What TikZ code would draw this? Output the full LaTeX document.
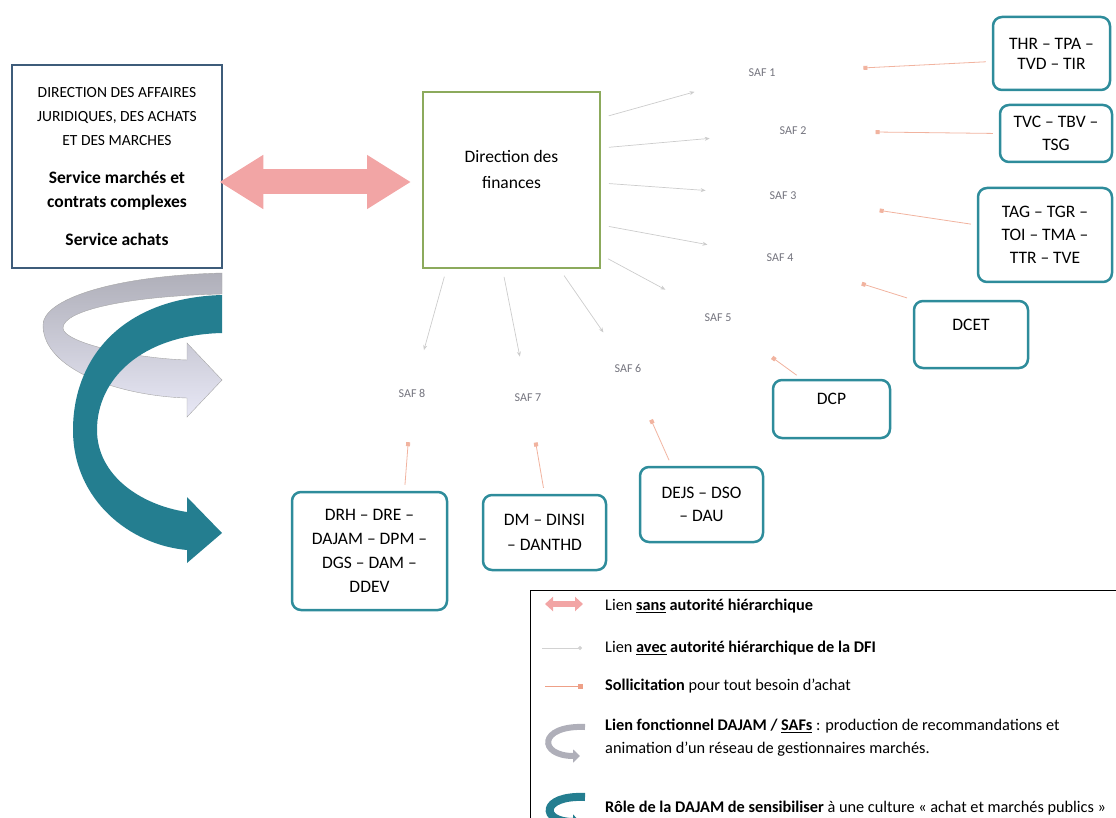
\documentclass[tikz,border=0pt]{standalone}
\usepackage{fontspec}
\setmainfont{Carlito}
\usetikzlibrary{arrows.meta}
\definecolor{boxteal}{RGB}{46,140,155}
\definecolor{ribteal}{RGB}{36,126,144}
\definecolor{dajamblue}{RGB}{62,92,122}
\definecolor{dfgreen}{RGB}{140,170,92}
\definecolor{linkpink}{RGB}{242,165,165}
\definecolor{sollisalmon}{RGB}{238,160,135}
\definecolor{safgray}{RGB}{115,115,125}
\definecolor{ribgray}{RGB}{175,175,185}
\definecolor{riblav}{RGB}{232,232,246}

\begin{document}
\begin{tikzpicture}[x=1pt,y=-1pt,
  every node/.style={inner sep=0pt, font=\fontsize{17.5}{23}\selectfont},
  orgbox/.style={draw=boxteal, line width=2.5pt, rounded corners=9pt, align=center},
  saflabel/.style={text=safgray, font=\fontsize{12}{14}\selectfont},
  hier/.style={draw=gray!40, line width=0.7pt, -{Stealth[length=5pt,width=4pt]}, shorten <=8pt},
  solli/.style={draw=sollisalmon!80, line width=0.8pt, -{Square[length=4pt,width=4pt]}, shorten <=6pt},
  pinkarrow/.style={draw=linkpink, line width=25pt, {Triangle[length=44pt,width=51pt]}-{Triangle[length=44pt,width=51pt]}},
  legtext/.style={anchor=west, align=left, font=\fontsize{16.3}{23}\selectfont}]
\useasboundingbox (0,0) rectangle (1116,818);

\node[draw=dajamblue, line width=2.5pt, minimum width=210pt, minimum height=203pt, align=center, font=\fontsize{15.5}{24}\selectfont] (dajam) at (117,166.5) {DIRECTION DES AFFAIRES\\JURIDIQUES, DES ACHATS\\ET DES MARCHES\\[14pt]{\fontsize{17.5}{25}\selectfont\textbf{Service marchés et}}\\{\fontsize{17.5}{25}\selectfont\textbf{contrats complexes}}\\[14pt]{\fontsize{17.5}{25}\selectfont\textbf{Service achats}}};
\node[draw=dfgreen, line width=2pt, minimum width=177pt, minimum height=176pt, align=center, text depth=22pt, font=\fontsize{17.5}{26}\selectfont] (dfbox) at (511.5,180) {Direction des\\finances};

\node[saflabel] (saf1) at (762,73) {SAF 1};
\node[saflabel] (saf2) at (793,131) {SAF 2};
\node[saflabel] (saf3) at (783,196) {SAF 3};
\node[saflabel] (saf4) at (780,258) {SAF 4};
\node[saflabel] (saf5) at (718,318) {SAF 5};
\node[saflabel] (saf6) at (628,368) {SAF 6};
\node[saflabel] (saf7) at (528,398) {SAF 7};
\node[saflabel] (saf8) at (412,393) {SAF 8};

\node[orgbox, minimum width=117pt, minimum height=73pt, font=\fontsize{17.5}{20}\selectfont] (thrbox) at (1051.5,53.5) {THR – TPA –\\TVD – TIR};
\node[orgbox, minimum width=112pt, minimum height=57pt] (tvcbox) at (1056,133.5) {TVC – TBV –\\TSG};
\node[orgbox, minimum width=134pt, minimum height=94pt] (tagbox) at (1045,235) {TAG – TGR –\\TOI – TMA –\\TTR – TVE};
\node[orgbox, minimum width=114pt, minimum height=67pt, text depth=20pt] (dcetbox) at (971,334.5) {DCET};
\node[orgbox, minimum width=117pt, minimum height=58pt, text depth=20pt] (dcpbox) at (831.5,409) {DCP};
\node[orgbox, minimum width=123pt, minimum height=75pt] (dejsbox) at (701.5,504.5) {DEJS – DSO\\– DAU};
\node[orgbox, minimum width=123pt, minimum height=75pt, font=\fontsize{17.5}{25}\selectfont] (dmbox) at (544.5,532.5) {DM – DINSI\\– DANTHD};
\node[orgbox, minimum width=155pt, minimum height=118pt, font=\fontsize{17.5}{24}\selectfont] (drhbox) at (369.5,551) {DRH – DRE –\\DAJAM – DPM –\\DGS – DAM –\\DDEV};

\draw[pinkarrow, shorten <=-4pt, shorten >=11pt] ([yshift=-15.5pt]dajam.east) -- ([yshift=-2pt]dfbox.west);

\draw[hier, shorten >=56pt] ([yshift=62pt]dfbox.east) -- (saf1);
\draw[hier, shorten >=70pt] ([yshift=32pt]dfbox.east) -- (saf2);
\draw[hier, shorten >=64pt] ([yshift=-3pt]dfbox.east) -- (saf3);
\draw[hier, shorten >=60pt] ([yshift=-45pt]dfbox.east) -- (saf4);
\draw[hier, shorten >=51pt] ([yshift=-75pt]dfbox.east) -- (saf5);
\draw[hier, shorten >=38pt] ([xshift=48pt]dfbox.south) -- (saf6);
\draw[hier, shorten >=38pt] ([xshift=-9pt]dfbox.south) -- (saf7);
\draw[hier, shorten >=40pt] ([xshift=-65pt]dfbox.south) -- (saf8);

\draw[solli, shorten >=88pt] ([yshift=-8pt]thrbox.west) -- (saf1);
\draw[solli, shorten >=69pt] (tvcbox.west) -- (saf2);
\draw[solli, shorten >=84pt] ([yshift=10pt]tagbox.west) -- (saf3);
\draw[solli, shorten >=72pt] (dcetbox.north west) -- (saf4);
\draw[solli, shorten >=60pt] ([xshift=-30pt]dcpbox.north) -- (saf5);
\draw[solli, shorten >=52pt] ([xshift=-30pt]dejsbox.north) -- (saf6);
\draw[solli, shorten >=41pt] (dmbox.north) -- (saf7);
\draw[solli, shorten >=45pt] ([xshift=35pt]drhbox.north) -- (saf8);

\draw[draw=gray!70, top color=ribgray, bottom color=riblav] (222,273) .. controls (110,276) and (43,300) .. (43,325) .. controls (43,370) and (120,396) .. (187,398) -- (187,417) -- (222,380) -- (187,343) -- (187,360) .. controls (130,358) and (63,342) .. (63,328) .. controls (63,310) and (130,296) .. (222,294) -- cycle;
\fill[ribteal] (222,295) .. controls (120,298) and (73,360) .. (73,430) .. controls (73,500) and (130,545) .. (187,550) -- (187,563) -- (222,533) -- (187,497) -- (187,512) .. controls (140,505) and (97,475) .. (97,430) .. controls (97,380) and (140,335) .. (222,333) -- cycle;

\draw[line width=0.8pt] (1130,590) -- (530,590) -- (530,830);
\draw[linkpink, line width=6pt, {Triangle[length=8pt,width=14pt]}-{Triangle[length=8pt,width=14pt]}] (545,604) -- (583,604);
\draw[gray!35, line width=1pt, -{Circle[length=4pt]}] (542,648) -- (582,648);
\draw[sollisalmon, line width=1pt, -{Square[length=5pt,width=5pt]}] (545,686) -- (583,686);
\draw[ribgray, line width=6pt, -{Triangle[length=7pt,width=13pt]}] (585,727) .. controls (538,725) and (538,756) .. (580,756);
\draw[ribteal, line width=8pt, -{Triangle[length=7pt,width=15pt]}] (585,797) .. controls (540,795) and (540,822) .. (580,822);
\node[legtext] (leg1) at (605,606) {Lien \textbf{\underline{sans} autorité hiérarchique}};
\node[legtext] (leg2) at (605,648) {Lien \textbf{\underline{avec} autorité hiérarchique de la DFI}};
\node[legtext] (leg3) at (605,686) {\textbf{Sollicitation} pour tout besoin d'achat};
\node[legtext] (leg4) at (605,738) {\textbf{Lien fonctionnel DAJAM / \underline{SAFs}} : production de recommandations et\\animation d'un réseau de gestionnaires marchés.};
\node[legtext] (leg5) at (605,808) {\textbf{Rôle de la DAJAM de sensibiliser} à une culture « achat et marchés publics »};
\end{tikzpicture}
\end{document}
